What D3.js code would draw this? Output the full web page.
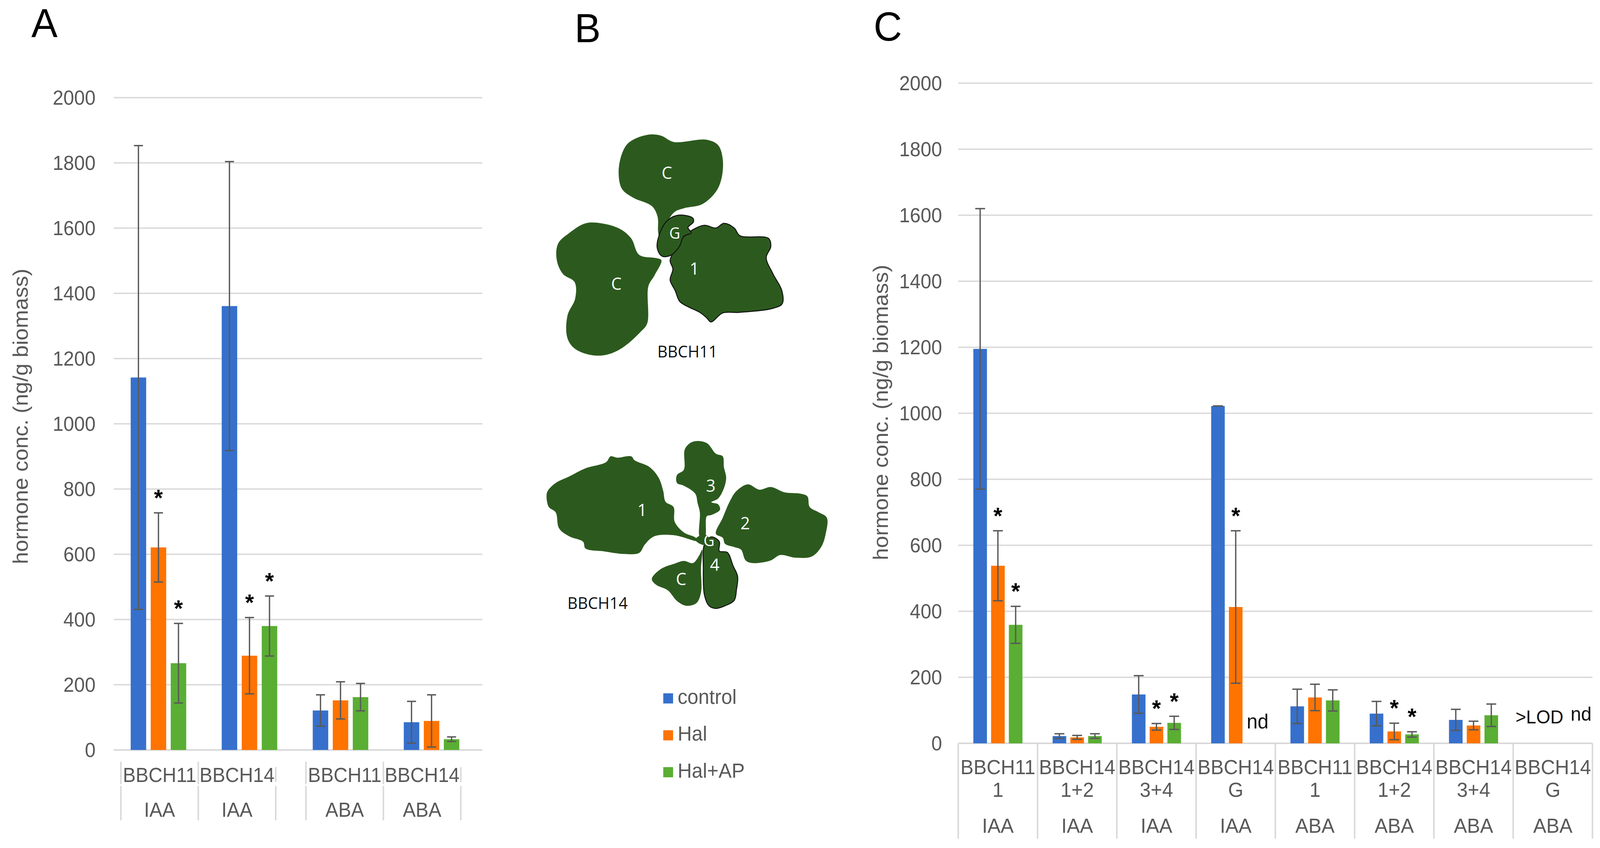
<!DOCTYPE html>
<html lang="en">
<head>
  <meta charset="UTF-8">
  <title>Hormone concentrations</title>
  <script src="https://d3js.org/d3.v7.min.js"></script>
  <style>
    html, body { margin: 0; padding: 0; height: 100%; overflow: hidden; background: #fff; }
    #fig { display: block; width: 100vw; height: 100vh; }
    text { font-family: "Liberation Sans", Arial, sans-serif; }
  </style>
</head>
<body>
  <svg id="fig" viewBox="0 0 4236 2171" preserveAspectRatio="none"></svg>

  <script>
    // ---- data ----
    const series = ["control", "Hal", "Hal+AP"];
    const colors = ["#3670cc", "#ff7300", "#5aae33"];
    const yTicks = [0, 200, 400, 600, 800, 1000, 1200, 1400, 1600, 1800, 2000];

    // panel A
    const stageA = ["BBCH11", "BBCH14", "BBCH11", "BBCH14"];
    const hormoneA = ["IAA", "IAA", "ABA", "ABA"];
    const ctrlA = [1142, 1361, 121, 85];
    const halA = [621, 289, 152, 89];
    const halApA = [266, 380, 162, 33];
    const ctrlErrA = [711, 443, 48, 64];
    const halErrA = [106, 117, 57, 80];
    const halApErrA = [122, 92, 42, 7];
    const halSigA = [1, 1, 0, 0];
    const halApSigA = [1, 1, 0, 0];

    // panel C
    const stageC = ["BBCH11", "BBCH14", "BBCH14", "BBCH14", "BBCH11", "BBCH14", "BBCH14", "BBCH14"];
    const leafC = ["1", "1+2", "3+4", "G", "1", "1+2", "3+4", "G"];
    const hormoneC = ["IAA", "IAA", "IAA", "IAA", "ABA", "ABA", "ABA", "ABA"];
    const ctrlC = [1195, 22, 148, 1022, 112, 90, 71, null];
    const halC = [538, 18, 50, 413, 139, 36, 54, null];
    const halApC = [359, 22, 62, null, 130, 27, 85, null];
    const ctrlErrC = [425, 7, 57, 0, 52, 37, 32, null];
    const halErrC = [106, 6, 10, 231, 40, 25, 13, null];
    const halApErrC = [56, 7, 20, null, 32, 8, 34, null];
    const halSigC = [1, 0, 1, 1, 0, 1, 0, 0];
    const halApSigC = [1, 0, 1, 0, 0, 1, 0, 0];
    const noteC = ["", "", "", "nd", "", "", "", ">LOD nd"];

    const svg = d3.select('#fig');
    const grid = '#d9d9d9';
    const txt = '#595959';
    const errCol = '#595959';

    // panel letters
    svg.append('text').attr('x', 83).attr('y', 95).attr('font-size', 104).text('A');
    svg.append('text').attr('x', 1521).attr('y', 108).attr('font-size', 104).text('B');
    svg.append('text').attr('x', 2313).attr('y', 104).attr('font-size', 104).text('C');

    // generic bar panel
    function drawBars(cfg) {
      const g = svg.append('g');
      const y = cfg.y;

      g.selectAll('line.grid').data(yTicks.filter(d => d > 0)).enter()
        .append('line')
        .attr('x1', cfg.gridX[0]).attr('x2', cfg.gridX[1])
        .attr('y1', d => y(d)).attr('y2', d => y(d))
        .style('stroke', grid).style('stroke-width', 3.5);

      g.append('line')
        .attr('x1', cfg.gridX[0]).attr('x2', cfg.gridX[1])
        .attr('y1', y(0)).attr('y2', y(0))
        .style('stroke', grid).style('stroke-width', 4);

      g.selectAll('text.tick').data(yTicks).enter()
        .append('text')
        .attr('x', cfg.tickX).attr('y', d => y(d))
        .attr('dy', '0.36em')
        .attr('text-anchor', 'end')
        .attr('font-size', 51)
        .style('fill', txt)
        .text(d => d);

      g.append('text')
        .attr('transform', `translate(${cfg.titleX},${cfg.titleY}) rotate(-90)`)
        .attr('text-anchor', 'middle')
        .attr('dy', '0.35em')
        .attr('font-size', 56)
        .style('fill', txt)
        .text('hormone conc. (ng/g biomass)');

      const n = cfg.vals[0].length;
      d3.range(n).forEach(c => {
        series.forEach((s, si) => {
          const v = cfg.vals[si][c];
          if (v === null) return;
          const e = cfg.errs[si][c];
          const x0 = cfg.x(c) + cfg.x.bandwidth() / 2 + cfg.inner(s);
          const cx = x0 + cfg.inner.bandwidth() / 2;
          g.append('rect')
            .attr('x', x0).attr('width', cfg.inner.bandwidth())
            .attr('y', y(v)).attr('height', y(0) - y(v))
            .style('fill', colors[si]);
          const lo = y(Math.max(0, v - e)), hi = y(v + e);
          g.append('line').attr('x1', cx).attr('x2', cx).attr('y1', lo).attr('y2', hi)
            .style('stroke', errCol).style('stroke-width', 3.5);
          [lo, hi].forEach(yy => g.append('line')
            .attr('x1', cx - cfg.cap / 2).attr('x2', cx + cfg.cap / 2)
            .attr('y1', yy).attr('y2', yy)
            .style('stroke', errCol).style('stroke-width', 3.5));
          const sig = si === 1 ? cfg.sigs[0][c] : si === 2 ? cfg.sigs[1][c] : 0;
          if (sig) {
            g.append('text')
              .attr('x', cx).attr('y', hi - 18)
              .attr('text-anchor', 'middle')
              .attr('font-size', 60).attr('font-weight', 'bold')
              .style('fill', '#000')
              .text('*');
          }
        });
      });
      return g;
    }

    // ---- panel A ----
    const yA = d3.scaleLinear().domain([0, 2000]).range([1920, 250]);
    const xA = d3.scaleBand().domain(d3.range(4)).range([299, 1263]);
    const innerA = d3.scaleBand().domain(series).range([-73.5, 73.5]).paddingInner(0.2264);
    const gA = drawBars({
      y: yA, x: xA, inner: innerA, cap: 24,
      gridX: [301, 1277], tickX: 253, titleX: 54, titleY: 1066,
      vals: [ctrlA, halA, halApA], errs: [ctrlErrA, halErrA, halApErrA],
      sigs: [halSigA, halApSigA]
    });

    // category axis of A, two sub-axes (IAA, ABA)
    const subA = [
      { idx: [0, 1], range: [320, 730] },
      { idx: [2, 3], range: [810, 1220] }
    ];
    subA.forEach(sa => {
      const b = d3.scaleBand().domain(sa.idx).range(sa.range);
      const edges = sa.idx.map(i => b(i)).concat([sa.range[1]]);
      edges.forEach((ex, k) => {
        const last = k === edges.length - 1;
        gA.append('line').attr('x1', ex).attr('x2', ex)
          .attr('y1', last ? 1964 : 1950).attr('y2', last ? 2002 : 2008)
          .style('stroke', grid).style('stroke-width', 4);
        gA.append('line').attr('x1', ex).attr('x2', ex)
          .attr('y1', 2012).attr('y2', 2100)
          .style('stroke', grid).style('stroke-width', 4);
      });
      sa.idx.forEach(i => {
        const cx = b(i) + b.bandwidth() / 2;
        gA.append('text').attr('x', cx).attr('y', 2002).attr('text-anchor', 'middle')
          .attr('font-size', 51).style('fill', txt).text(stageA[i]);
        gA.append('text').attr('x', cx).attr('y', 2091).attr('text-anchor', 'middle')
          .attr('font-size', 51).style('fill', txt).text(hormoneA[i]);
      });
    });

    // ---- panel C ----
    const yC = d3.scaleLinear().domain([0, 2000]).range([1903, 213]);
    const xC = d3.scaleBand().domain(d3.range(8)).range([2537, 4216]);
    const innerC = d3.scaleBand().domain(series).range([-65, 65]).paddingInner(0.234);
    const gC = drawBars({
      y: yC, x: xC, inner: innerC, cap: 26,
      gridX: [2537, 4216], tickX: 2494, titleX: 2331, titleY: 1056,
      vals: [ctrlC, halC, halApC], errs: [ctrlErrC, halErrC, halApErrC],
      sigs: [halSigC, halApSigC]
    });

    const edgesC = d3.range(8).map(i => xC(i)).concat([xC.range()[1]]);
    gC.selectAll('line.sep').data(edgesC).enter().append('line')
      .attr('x1', d => d).attr('x2', d => d)
      .attr('y1', yC(0)).attr('y2', 2147)
      .style('stroke', grid).style('stroke-width', 4);

    d3.range(8).forEach(i => {
      const cx = xC(i) + xC.bandwidth() / 2;
      gC.append('text').attr('x', cx).attr('y', 1982).attr('text-anchor', 'middle')
        .attr('font-size', 52).style('fill', txt).text(stageC[i]);
      gC.append('text').attr('x', cx).attr('y', 2040).attr('text-anchor', 'middle')
        .attr('font-size', 52).style('fill', txt).text(leafC[i]);
      gC.append('text').attr('x', cx).attr('y', 2132).attr('text-anchor', 'middle')
        .attr('font-size', 52).style('fill', txt).text(hormoneC[i]);
    });

    // "nd" / ">LOD nd" notes
    noteC.forEach((t, i) => {
      if (!t) return;
      const cx = xC(i) + xC.bandwidth() / 2;
      if (t === 'nd') {
        gC.append('text').attr('x', cx + innerC('Hal+AP')).attr('y', 1865)
          .attr('font-size', 52).style('fill', '#111').text('nd');
      } else {
        const parts = t.split(' ');
        gC.append('text').attr('x', cx + 28).attr('y', 1852).attr('text-anchor', 'end')
          .attr('font-size', 48).style('fill', '#111').text(parts[0]);
        gC.append('text').attr('x', cx + 47).attr('y', 1845)
          .attr('font-size', 50).style('fill', '#111').text(parts[1]);
      }
    });

    // ---- panel B: plant sketches ----
    const leafColor = '#2c5a1e';
    const toB11 = p => [1350 + p[0] * 950 / 1568, p[1] * 1100 / 1568];
    const toB14 = p => [1350 + p[0] * 950 / 1568, 1100 + p[1] * 1071 / 1568];
    const blob = d3.line().curve(d3.curveCatmullRomClosed.alpha(0.5));

    const b11Leaves = [
      { stroke: false, pts: [[520,520],[600,492],[660,495],[715,518],[860,510],[910,530],[930,580],[925,650],[900,700],[840,745],[760,760],[722,772],[695,800],[672,860],[660,885],[648,850],[645,790],[620,752],[540,722],[490,690],[475,630],[490,560]] },
      { stroke: false, pts: [[210,890],[260,850],[330,815],[400,815],[480,835],[530,870],[565,930],[640,942],[662,950],[632,1005],[605,1045],[600,1180],[570,1212],[490,1270],[420,1295],[350,1295],[280,1270],[250,1230],[252,1150],[285,1090],[283,1030],[232,1000],[205,950]] },
      { stroke: true, pts: [[700,950],[730,900],[762,862],[800,838],[850,822],[900,832],[935,815],[980,832],[1005,860],[1130,870],[1140,900],[1120,940],[1150,1000],[1188,1060],[1190,1108],[1150,1125],[1000,1140],[930,1142],[878,1175],[860,1160],[830,1140],[780,1120],[742,1100],[722,1060],[700,1022],[712,982]] },
      { stroke: true, pts: [[645,880],[680,812],[730,786],[798,795],[802,810],[778,830],[792,850],[760,862],[740,900],[702,932],[665,935],[645,910]] }
    ];
    const b11Labels = [['C', 686, 630], ['C', 465, 1035], ['G', 720, 850], ['1', 806, 980]];

    const b14Leaves = [
      { stroke: false, pts: [[165,230],[200,200],[260,175],[330,145],[420,122],[440,100],[470,105],[530,100],[545,115],[610,140],[650,180],[670,230],[680,270],[715,290],[720,345],[760,385],[812,405],[822,418],[720,396],[630,400],[590,430],[565,462],[500,466],[410,456],[330,445],[320,420],[260,400],[215,370],[200,310],[170,290],[160,250]] },
      { stroke: false, pts: [[730,170],[760,150],[765,72],[800,45],[860,50],[900,90],[930,100],[935,140],[945,180],[935,220],[910,258],[880,272],[910,280],[918,300],[880,320],[860,325],[852,402],[830,402],[830,310],[820,275],[810,240],[760,210],[730,200]] },
      { stroke: false, pts: [[900,390],[930,330],[960,270],[990,230],[1040,205],[1090,225],[1140,215],[1200,235],[1270,240],[1300,250],[1310,290],[1350,310],[1385,330],[1380,390],[1360,440],[1320,475],[1250,480],[1180,470],[1140,490],[1060,500],[1030,490],[1010,450],[980,440],[940,428],[930,405]] },
      { stroke: true, pts: [[850,430],[880,402],[915,420],[915,455],[950,460],[975,510],[995,550],[990,600],[980,640],[940,660],[900,670],[870,660],[850,620],[845,520]] },
      { stroke: false, pts: [[620,560],[660,522],[720,502],[760,492],[800,500],[828,470],[840,450],[835,520],[835,610],[815,650],[770,660],[730,642],[690,602],[640,582]] },
      { stroke: false, pts: [[810,412],[850,392],[880,420],[845,432]] }
    ];
    const b14Labels = [['1', 578, 300], ['3', 878, 210], ['2', 1028, 350], ['G', 870, 415], ['4', 895, 505], ['C', 748, 560]];

    const gB = svg.append('g');
    function drawPlant(leaves, labels, tf) {
      leaves.forEach(l => {
        gB.append('path')
          .attr('d', blob(l.pts.map(tf)))
          .style('fill', leafColor)
          .style('stroke', l.stroke ? '#111' : 'none')
          .style('stroke-width', 2.5);
      });
      labels.forEach(([t, px, py]) => {
        const [x, y] = tf([px, py]);
        gB.append('text').attr('x', x).attr('y', y).attr('dy', '0.36em')
          .attr('text-anchor', 'middle')
          .style('font-family', '"Open Sans", sans-serif')
          .attr('font-size', t === 'G' ? 40 : 44)
          .style('fill', '#fff').text(t);
      });
    }
    drawPlant(b11Leaves, b11Labels, toB11);
    drawPlant(b14Leaves, b14Labels, toB14);

    gB.append('text').attr('x', 1820).attr('y', 915).attr('text-anchor', 'middle')
      .style('font-family', '"Open Sans", sans-serif').attr('font-size', 42)
      .style('fill', '#111').text('BBCH11');
    gB.append('text').attr('x', 1582).attr('y', 1559).attr('text-anchor', 'middle')
      .style('font-family', '"Open Sans", sans-serif').attr('font-size', 42)
      .style('fill', '#111').text('BBCH14');

    // legend
    const legY = d3.scalePoint().domain(series).range([1775, 1964]);
    const leg = svg.append('g');
    series.forEach((s, i) => {
      leg.append('rect').attr('x', 1756).attr('y', legY(s)).attr('width', 26).attr('height', 26)
        .style('fill', colors[i]);
      leg.append('text').attr('x', 1794).attr('y', legY(s) + 27)
        .attr('font-size', 52).style('fill', txt).text(s);
    });
  </script>
</body>
</html>
